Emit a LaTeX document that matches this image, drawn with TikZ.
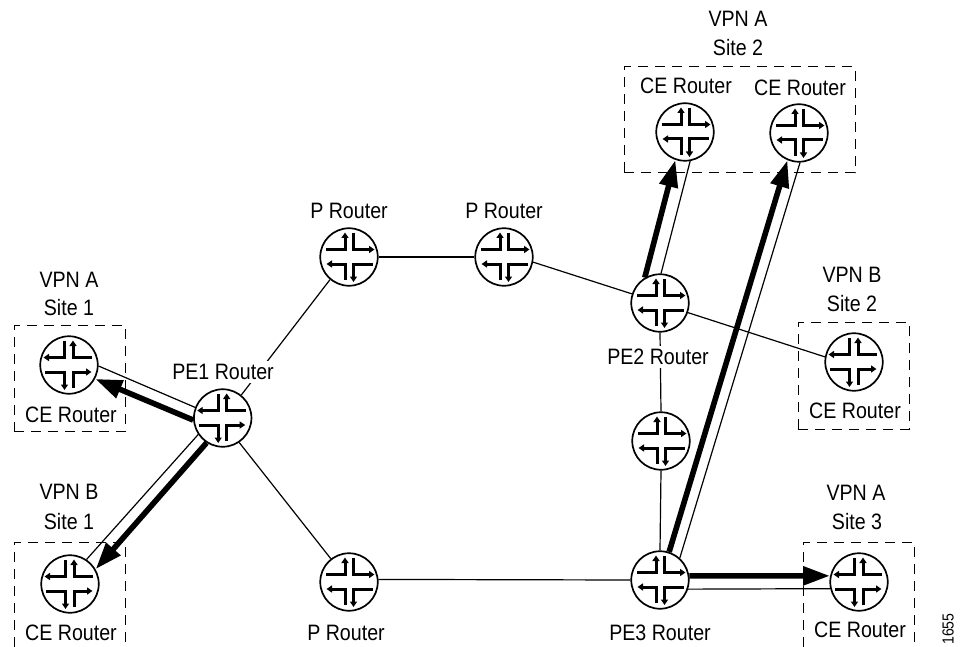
\documentclass[tikz,border=0pt]{standalone}
\usepackage{fontspec}
\setmainfont[FakeStretch=0.88]{Liberation Sans}
\usetikzlibrary{arrows.meta}
\tikzset{
  x=1pt,y=-1pt,
  router/.style={circle,draw,line width=1.7pt,minimum size=57.5pt,inner sep=0pt,fill=white},
  lbl/.style={inner sep=0pt,font=\fontsize{22.3}{24}\selectfont},
  blank/.style={lbl,fill=white,inner xsep=1pt,inner ysep=3pt},
  sitebox/.style={draw,dash pattern=on 10pt off 7pt,line width=1pt,inner sep=0pt},
  openbox/.style={draw,dash pattern=on 10pt off 7pt,line width=1pt},
  thin link/.style={draw,line width=1.2pt},
  heavy/.style={draw,line width=5.6pt,-{Triangle[length=27pt,width=18pt]}},
  small/.style={line width=3pt,-{Triangle[length=5.5pt,width=7pt]}},
  icon/.pic={
    \draw[small] (-23,-7.5) -| (-4,-24.5);
    \draw[small] (4.5,-24) |- (25.5,-7.5);
    \draw[small] (-4,23) |- (-22.5,7);
    \draw[small] (24,7) -| (4.5,25);
  }
}
\begin{document}
\begin{tikzpicture}
\useasboundingbox[fill=white] (0,0) rectangle (961,647);
% site boxes
\node[sitebox,minimum width=111pt,minimum height=106.5pt] (boxA1) at (69.5,378.5) {};
\node[sitebox,minimum width=231pt,minimum height=106pt] (boxA2) at (739.5,120) {};
\node[sitebox,minimum width=111pt,minimum height=106.5pt] (boxB2) at (853.5,376) {};
\draw[openbox] (14,647) -- (14,542) -- (125,542) -- (125,647);
\draw[openbox] (803,647) -- (803,542) -- (914,542) -- (914,647);
% routers
\node[router] (ceA1) at (69,365) {};
\node[router] (ceB1) at (70,584) {};
\node[router] (pe1) at (222.7,418) {};
\node[router] (p1) at (349,257) {};
\node[router] (p2) at (504,257) {};
\node[router] (p3) at (349,582) {};
\node[router] (pe2) at (660,303) {};
\node[router] (mid) at (661,441) {};
\node[router] (pe3) at (660,580) {};
\node[router] (ceB2) at (854,362) {};
\node[router] (ceA3) at (859,582) {};
\node[router] (ceA21) at (685,132) {};
\node[router] (ceA22) at (799,133) {};
\foreach \r in {p1,p2,p3,pe2,mid,pe3,ceA21,ceA22} \pic at (\r) {icon};
\foreach \r in {ceA1,ceB1,pe1,ceB2,ceA3} \pic[xscale=-1] at (\r) {icon};
% thin links
\path[thin link] (ceA1.358) -- (pe1.159);
\path[thin link] (pe1.214) -- (ceB1.56);
\path[thin link] (pe1.51) -- (p1.230);
\path[thin link] (pe1.304) -- (p3.128);
\path[thin link] (p3.5) -- (pe3.180);
\path[thin link] (p1.0) -- (p2.180);
\path[thin link] (p2.350) -- (pe2.162);
\path[thin link] (pe2.341) -- (ceB2.170);
\path[thin link] (pe2.270) -- (mid.90);
\path[thin link] (mid.270) -- (pe3.90);
\path[thin link] (pe3.342) -- (ceA3.193);
\path[thin link] (pe3.48) -- (ceA22.272);
\path[thin link] (pe2.88) -- (ceA21.280);
% heavy arrows
\path[heavy] (pe1.184) -- (ceA1.332);
\path[heavy] (pe1.237) -- (ceB1.30);
\path[heavy] (pe3.8) -- (ceA3.168);
\path[heavy] (pe3.72) -- (ceA22.247);
\path[heavy] (pe2.121) -- (ceA21.251);
% labels
\node[lbl] (t1) at (69,280) {VPN A};
\node[lbl] (t2) at (69,308) {Site 1};
\node[lbl] (t3) at (71,415) {CE Router};
\node[blank] (t4) at (223,372) {PE1 Router};
\node[lbl] (t5) at (69,492) {VPN B};
\node[lbl] (t6) at (69,522) {Site 1};
\node[lbl] (t7) at (71,633) {CE Router};
\node[lbl] (t8) at (346,633) {P Router};
\node[lbl] (t9) at (349,211) {P Router};
\node[lbl] (t10) at (504,211) {P Router};
\node[lbl] (t11) at (738,19) {VPN A};
\node[lbl] (t12) at (738,48) {Site 2};
\node[lbl] (t13) at (686,86) {CE Router};
\node[lbl] (t14) at (800,88) {CE Router};
\node[lbl] (t15) at (852,275) {VPN B};
\node[lbl] (t16) at (852,304) {Site 2};
\node[lbl] (t17) at (855,411) {CE Router};
\node[blank] (t18) at (658,357) {PE2 Router};
\node[lbl] (t19) at (856,493) {VPN A};
\node[lbl] (t20) at (857,522) {Site 3};
\node[lbl] (t21) at (860,630) {CE Router};
\node[lbl] (t22) at (660,633) {PE3 Router};
\node[inner sep=0pt,rotate=90,font=\fontsize{16}{18}\selectfont] (t23) at (948,629) {1655};
\end{tikzpicture}
\end{document}
